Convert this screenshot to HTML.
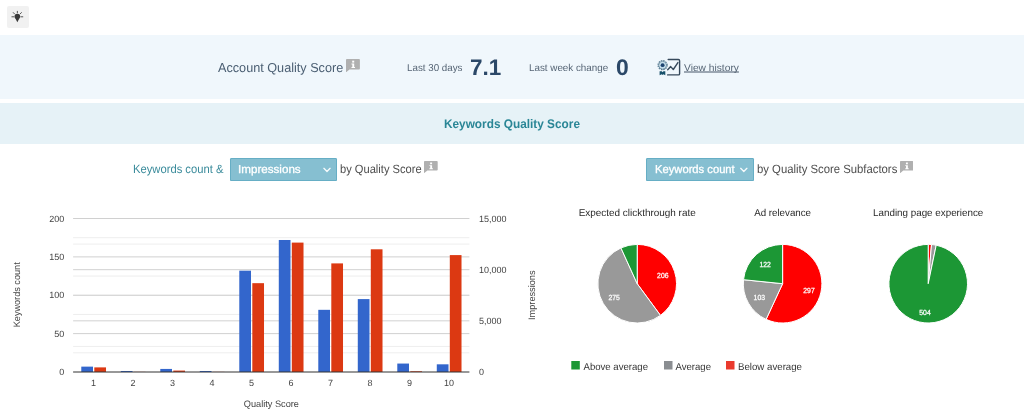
<!DOCTYPE html>
<html lang="en">
<head>
<meta charset="utf-8">
<title>Quality Score</title>
<style>
html,body{margin:0;padding:0;background:#ffffff;}
body{width:1024px;height:418px;position:relative;overflow:hidden;font-family:"Liberation Sans", Arial, sans-serif;text-rendering:geometricPrecision;}
.t{position:absolute;white-space:nowrap;transform-origin:0 50%;display:block;}
.tip{position:absolute;left:7.2px;top:5.5px;width:21.5px;height:22.2px;background:#f1f1f1;border-radius:2px;}
.band1{position:absolute;left:0;top:35px;width:1024px;height:63.5px;background:#f0f7fc;}
.band2{position:absolute;left:0;top:103px;width:1024px;height:40.5px;background:#e6f2f7;}
.sel{position:absolute;top:158.25px;height:22.75px;box-sizing:border-box;background:#86bfd1;box-shadow:inset 0 0 0 1px #66aec5;border-radius:1.5px;}
.sel svg{position:absolute;top:0;left:0;}
svg text{font-family:"Liberation Sans", Arial, sans-serif;}
.abs{position:absolute;left:0;top:0;}
</style>
</head>
<body>
<div class="tip"><svg class="abs" width="22" height="22" viewBox="0 0 22 22">
<g stroke="#555" stroke-width="1" stroke-linecap="round" fill="none">
<path d="M10.350 5.300v1.500M6.300 6.600l1.200 1.300M14.400 6.600l-1.200 1.300M4.900 10.800h2M13.800 10.800h2"/>
</g>
<path d="M10.350 7.700a2.800 2.800 0 0 1 2.800 2.800c0 1.100-.6 1.800-1.100 2.500L10.350 16.300 8.650 13C8.150 12.300 7.550 11.600 7.550 10.500a2.800 2.800 0 0 1 2.800-2.800z" fill="#3a3a3a"/>
</svg></div>

<div class="band1"></div>
<span class="t" id="aqs" style="left:218.00px;top:59.60px;font-size:13px;line-height:15.6px;font-weight:400;color:#4a5e72;transform:scale(0.9736,1);">Account Quality Score</span>
<svg class="abs" style="left:345.9px;top:58.5px" width="13.9" height="13.4" viewBox="0 0 13.2 12" preserveAspectRatio="none"><path d="M.8 0h11.600a.8.800 0 0 1 .8.800v7.700a.8.800 0 0 1-.8.800H3.300L0 12V.8A.8.800 0 0 1 .8 0z" fill="#b0b0b0"/><rect x="5.900" y="1.500" width="1.900" height="1.700" fill="#fff"/><path d="M5.200 4.100h2.600v3h.8v.9H5.200v-.9h.8V5h-.8z" fill="#fff"/></svg>
<span class="t" id="l30" style="left:406.50px;top:62.80px;font-size:10px;line-height:12.0px;font-weight:400;color:#566575;transform:scale(0.9788,1);">Last 30 days</span>
<span class="t" id="v71" style="left:470.20px;top:54.00px;font-size:22.5px;line-height:27.0px;font-weight:700;color:#2b4868;transform:scale(0.9979,1);text-rendering:geometricPrecision;">7.1</span>
<span class="t" id="lwc" style="left:528.90px;top:62.80px;font-size:10px;line-height:12.0px;font-weight:400;color:#566575;transform:scale(0.9821,1);">Last week change</span>
<span class="t" id="v0" style="left:616.40px;top:54.00px;font-size:22.5px;line-height:27.0px;font-weight:700;color:#2b4868;transform:scale(1.0167,1);text-rendering:geometricPrecision;">0</span>
<svg class="abs" style="left:656px;top:57px" width="26" height="20" viewBox="0 -0.4 26 20">
<path d="M12.200 2.100h10.200a1.200 1.200 0 0 1 1.200 1.200v13a1.200 1.200 0 0 1-1.200 1.200H11.600" fill="none" stroke="#36495b" stroke-width="1.400" stroke-linecap="round"/>
<path d="M11.700 12.400l3-3.200 2.600 2.900 4.600-6.900" fill="none" stroke="#36495b" stroke-width="1.400" stroke-linecap="round" stroke-linejoin="round"/>
<circle cx="6.600" cy="7.800" r="4.500" fill="none" stroke="#56798f" stroke-width="1.300" stroke-dasharray="1.500 0.860"/>
<circle cx="6.600" cy="7.800" r="3.900" fill="#d3e7f1" stroke="#54788f" stroke-width=".7"/>
<circle cx="6.600" cy="7.800" r="2.600" fill="#bcd9e8"/>
<circle cx="6.600" cy="7.800" r="1.900" fill="#1f4470"/>
<path d="M3.600 13.800h2.200l.8 1 .8-1h1.900v4.100l-1.900-1-.8.600-.8-.6-2.200 1z" fill="#17506a"/>
</svg>
<a href="#history" class="t" id="vh" style="left:683.80px;top:62.80px;font-size:10px;line-height:12.0px;font-weight:400;color:#566575;transform:scale(1.0219,1);text-decoration:underline;text-decoration-skip-ink:none;text-underline-offset:0px;text-decoration-thickness:2px;text-decoration-color:rgba(86,101,117,.55);">View history</a>

<div class="band2"></div>
<span class="t" id="kqs" style="left:443.60px;top:117.00px;font-size:12.5px;line-height:15.0px;font-weight:700;color:#2a8696;transform:scale(0.9454,1);">Keywords Quality Score</span>

<span class="t" id="kca" style="left:132.75px;top:161.80px;font-size:12px;line-height:14.4px;font-weight:400;color:#3a8b9b;transform:scale(0.9347,1);">Keywords count &amp;</span>
<div class="sel" style="left:230.1px;width:106.5px;"><svg width="107" height="23" viewBox="0 0 107 23"><path d="M93.900 10.350l3.100 3.100 3.100-3.100" fill="none" stroke="#fff" stroke-opacity=".92" stroke-width="1.350" stroke-linecap="round" stroke-linejoin="round"/></svg></div>
<span class="t" id="imp" style="left:237.99px;top:163.70px;font-size:11.5px;line-height:13.8px;font-weight:400;color:#ffffff;transform:scale(1.0107,1);-webkit-text-stroke:0.3px #fff;">Impressions</span>
<span class="t" id="bqs" style="left:340.10px;top:161.80px;font-size:12px;line-height:14.4px;font-weight:400;color:#4d4d4d;transform:scale(0.9269,1);">by Quality Score</span>
<svg class="abs" style="left:424.2px;top:160.9px" width="13.7" height="12.2" viewBox="0 0 13.2 12" preserveAspectRatio="none"><path d="M.8 0h11.600a.8.800 0 0 1 .8.800v7.700a.8.800 0 0 1-.8.800H3.300L0 12V.8A.8.800 0 0 1 .8 0z" fill="#b0b0b0"/><rect x="5.900" y="1.500" width="1.900" height="1.700" fill="#fff"/><path d="M5.200 4.100h2.600v3h.8v.9H5.200v-.9h.8V5h-.8z" fill="#fff"/></svg>

<div class="sel" style="left:646.25px;width:107.25px;"><svg width="108" height="23" viewBox="0 0 108 23"><path d="M94.700 10.350l3.100 3.100 3.100-3.100" fill="none" stroke="#fff" stroke-opacity=".92" stroke-width="1.350" stroke-linecap="round" stroke-linejoin="round"/></svg></div>
<span class="t" id="kc2" style="left:655.10px;top:163.70px;font-size:11.5px;line-height:13.8px;font-weight:400;color:#ffffff;transform:scale(0.9743,1);-webkit-text-stroke:0.3px #fff;">Keywords count</span>
<span class="t" id="bqss" style="left:756.70px;top:161.80px;font-size:12px;line-height:14.4px;font-weight:400;color:#4d4d4d;transform:scale(0.9433,1);">by Quality Score Subfactors</span>
<svg class="abs" style="left:899.9px;top:160.8px" width="13.3" height="12.3" viewBox="0 0 13.2 12" preserveAspectRatio="none"><path d="M.8 0h11.600a.8.800 0 0 1 .8.800v7.700a.8.800 0 0 1-.8.800H3.300L0 12V.8A.8.800 0 0 1 .8 0z" fill="#b0b0b0"/><rect x="5.900" y="1.500" width="1.900" height="1.700" fill="#fff"/><path d="M5.200 4.100h2.600v3h.8v.9H5.200v-.9h.8V5h-.8z" fill="#fff"/></svg>

<svg class="abs" width="1024" height="418" viewBox="0 0 1024 418" style="pointer-events:none">
<g id="barchart">
<rect x="73.10" y="352.31" width="396.30" height="1" fill="#eeeeee"/>
<rect x="73.10" y="313.94" width="396.30" height="1" fill="#eeeeee"/>
<rect x="73.10" y="275.56" width="396.30" height="1" fill="#eeeeee"/>
<rect x="73.10" y="237.19" width="396.30" height="1" fill="#eeeeee"/>
<rect x="73.10" y="345.92" width="396.30" height="1" fill="#eeeeee"/>
<rect x="73.10" y="294.75" width="396.30" height="1" fill="#eeeeee"/>
<rect x="73.10" y="243.58" width="396.30" height="1" fill="#eeeeee"/>
<rect x="73.10" y="320.33" width="396.30" height="1" fill="#d2d2d2"/>
<rect x="73.10" y="269.17" width="396.30" height="1" fill="#d2d2d2"/>
<rect x="73.10" y="333.12" width="396.30" height="1" fill="#d0d0d0"/>
<rect x="73.10" y="294.75" width="396.30" height="1" fill="#d0d0d0"/>
<rect x="73.10" y="256.38" width="396.30" height="1" fill="#d0d0d0"/>
<rect x="73.10" y="218.00" width="396.30" height="1" fill="#d0d0d0"/>
<rect x="81.29" y="366.63" width="11.71" height="5.37" fill="#3366cc"/>
<rect x="94.30" y="367.39" width="11.71" height="4.60" fill="#dc3912"/>
<rect x="120.79" y="371.00" width="11.71" height="1.00" fill="#3366cc"/>
<rect x="133.80" y="371.88" width="11.71" height="0.12" fill="#dc3912"/>
<rect x="160.29" y="368.93" width="11.71" height="3.07" fill="#3366cc"/>
<rect x="173.30" y="370.57" width="11.71" height="1.43" fill="#dc3912"/>
<rect x="199.79" y="371.00" width="11.71" height="1.00" fill="#3366cc"/>
<rect x="212.80" y="371.88" width="11.71" height="0.12" fill="#dc3912"/>
<rect x="239.29" y="270.69" width="11.71" height="101.31" fill="#3366cc"/>
<rect x="252.30" y="283.17" width="11.71" height="88.83" fill="#dc3912"/>
<rect x="278.79" y="239.99" width="11.71" height="132.01" fill="#3366cc"/>
<rect x="291.80" y="242.60" width="11.71" height="129.40" fill="#dc3912"/>
<rect x="318.29" y="309.83" width="11.71" height="62.17" fill="#3366cc"/>
<rect x="331.30" y="263.40" width="11.71" height="108.60" fill="#dc3912"/>
<rect x="357.79" y="299.09" width="11.71" height="72.91" fill="#3366cc"/>
<rect x="370.80" y="249.30" width="11.71" height="122.70" fill="#dc3912"/>
<rect x="397.29" y="363.56" width="11.71" height="8.44" fill="#3366cc"/>
<rect x="410.30" y="371.28" width="11.71" height="0.72" fill="#dc3912"/>
<rect x="436.79" y="364.32" width="11.71" height="7.68" fill="#3366cc"/>
<rect x="449.80" y="255.09" width="11.71" height="116.91" fill="#dc3912"/>
<rect x="73.10" y="371.50" width="396.30" height="1" fill="#333333"/>
<text x="64.20" y="375.20" font-size="9" text-anchor="end" fill="#444444">0</text>
<text x="64.20" y="336.82" font-size="9" text-anchor="end" fill="#444444">50</text>
<text x="64.20" y="298.45" font-size="9" text-anchor="end" fill="#444444">100</text>
<text x="64.20" y="260.07" font-size="9" text-anchor="end" fill="#444444">150</text>
<text x="64.20" y="221.70" font-size="9" text-anchor="end" fill="#444444">200</text>
<text x="479.00" y="375.20" font-size="9" text-anchor="start" fill="#444444">0</text>
<text x="479.00" y="324.03" font-size="9" text-anchor="start" fill="#444444">5,000</text>
<text x="479.00" y="272.87" font-size="9" text-anchor="start" fill="#444444">10,000</text>
<text x="479.00" y="221.70" font-size="9" text-anchor="start" fill="#444444">15,000</text>
<text x="93.50" y="385.50" font-size="9" text-anchor="middle" fill="#444444">1</text>
<text x="133.00" y="385.50" font-size="9" text-anchor="middle" fill="#444444">2</text>
<text x="172.50" y="385.50" font-size="9" text-anchor="middle" fill="#444444">3</text>
<text x="212.00" y="385.50" font-size="9" text-anchor="middle" fill="#444444">4</text>
<text x="251.50" y="385.50" font-size="9" text-anchor="middle" fill="#444444">5</text>
<text x="291.00" y="385.50" font-size="9" text-anchor="middle" fill="#444444">6</text>
<text x="330.50" y="385.50" font-size="9" text-anchor="middle" fill="#444444">7</text>
<text x="370.00" y="385.50" font-size="9" text-anchor="middle" fill="#444444">8</text>
<text x="409.50" y="385.50" font-size="9" text-anchor="middle" fill="#444444">9</text>
<text x="449.00" y="385.50" font-size="9" text-anchor="middle" fill="#444444">10</text>
<text x="243.75" y="407.20" font-size="9.4" text-anchor="start" fill="#444444" textLength="55.2" lengthAdjust="spacingAndGlyphs">Quality Score</text>
<text x="-32.30" y="0.00" font-size="9.4" text-anchor="start" fill="#444444" textLength="65" lengthAdjust="spacingAndGlyphs" transform="translate(20.4 295) rotate(-90)">Keywords count</text>
<text x="-24.75" y="0.00" font-size="9.4" text-anchor="start" fill="#444444" textLength="49.5" lengthAdjust="spacingAndGlyphs" transform="translate(535.0 295.2) rotate(-90)">Impressions</text>
</g>
<g id="pies">
<path d="M637.20,283.70L637.20,244.40A39.3,39.3 0 0 1 660.45,315.38Z" fill="#ff0000" stroke="#ffffff" stroke-width="1"/>
<path d="M637.20,283.70L660.45,315.38A39.3,39.3 0 1 1 620.95,247.92Z" fill="#999999" stroke="#ffffff" stroke-width="1"/>
<path d="M637.20,283.70L620.95,247.92A39.3,39.3 0 0 1 637.20,244.40Z" fill="#1c9735" stroke="#ffffff" stroke-width="1"/>
<text x="657.10" y="278.40" font-size="7.4" text-anchor="start" fill="#ffffff" textLength="11.4" lengthAdjust="spacingAndGlyphs" stroke="#fff" stroke-width=".25">206</text>
<text x="608.40" y="300.40" font-size="7.4" text-anchor="start" fill="#ffffff" textLength="11.4" lengthAdjust="spacingAndGlyphs" stroke="#fff" stroke-width=".25">275</text>
<text x="637.20" y="216.1" font-size="10" text-anchor="middle" fill="#2a2a2a" textLength="117.1" lengthAdjust="spacingAndGlyphs">Expected clickthrough rate</text>
<path d="M782.60,283.70L782.60,244.40A39.3,39.3 0 1 1 766.10,319.37Z" fill="#ff0000" stroke="#ffffff" stroke-width="1"/>
<path d="M782.60,283.70L766.10,319.37A39.3,39.3 0 0 1 743.51,279.69Z" fill="#999999" stroke="#ffffff" stroke-width="1"/>
<path d="M782.60,283.70L743.51,279.69A39.3,39.3 0 0 1 782.60,244.40Z" fill="#1c9735" stroke="#ffffff" stroke-width="1"/>
<text x="803.30" y="292.60" font-size="7.4" text-anchor="start" fill="#ffffff" textLength="11.4" lengthAdjust="spacingAndGlyphs" stroke="#fff" stroke-width=".25">297</text>
<text x="753.60" y="299.60" font-size="7.4" text-anchor="start" fill="#ffffff" textLength="11.4" lengthAdjust="spacingAndGlyphs" stroke="#fff" stroke-width=".25">103</text>
<text x="759.50" y="266.90" font-size="7.4" text-anchor="start" fill="#ffffff" textLength="11.4" lengthAdjust="spacingAndGlyphs" stroke="#fff" stroke-width=".25">122</text>
<text x="782.60" y="216.1" font-size="10" text-anchor="middle" fill="#2a2a2a" textLength="56.9" lengthAdjust="spacingAndGlyphs">Ad relevance</text>
<path d="M928.20,283.70L928.20,244.40A39.3,39.3 0 0 1 931.51,244.54Z" fill="#ff0000" stroke="#ffffff" stroke-width="1"/>
<path d="M928.20,283.70L931.51,244.54A39.3,39.3 0 0 1 936.20,245.22Z" fill="#999999" stroke="#ffffff" stroke-width="1"/>
<path d="M928.20,283.70L936.20,245.22A39.3,39.3 0 1 1 928.20,244.40Z" fill="#1c9735" stroke="#ffffff" stroke-width="1"/>
<text x="919.30" y="314.70" font-size="7.4" text-anchor="start" fill="#ffffff" textLength="11.4" lengthAdjust="spacingAndGlyphs" stroke="#fff" stroke-width=".25">504</text>
<text x="928.20" y="216.1" font-size="10" text-anchor="middle" fill="#2a2a2a" textLength="110.3" lengthAdjust="spacingAndGlyphs">Landing page experience</text>
<rect x="571.3" y="361" width="8.5" height="8.5" fill="#1c9735"/>
<text x="583.5" y="369.6" font-size="10" fill="#363636" textLength="64.5" lengthAdjust="spacingAndGlyphs">Above average</text>
<rect x="664" y="361" width="8.5" height="8.5" fill="#8a8d91"/>
<text x="675.5" y="369.6" font-size="10" fill="#363636" textLength="35.5" lengthAdjust="spacingAndGlyphs">Average</text>
<rect x="726" y="361" width="8.5" height="8.5" fill="#ea3a2d"/>
<text x="738" y="369.6" font-size="10" fill="#363636" textLength="64" lengthAdjust="spacingAndGlyphs">Below average</text>
</g>
</svg>
</body>
</html>
